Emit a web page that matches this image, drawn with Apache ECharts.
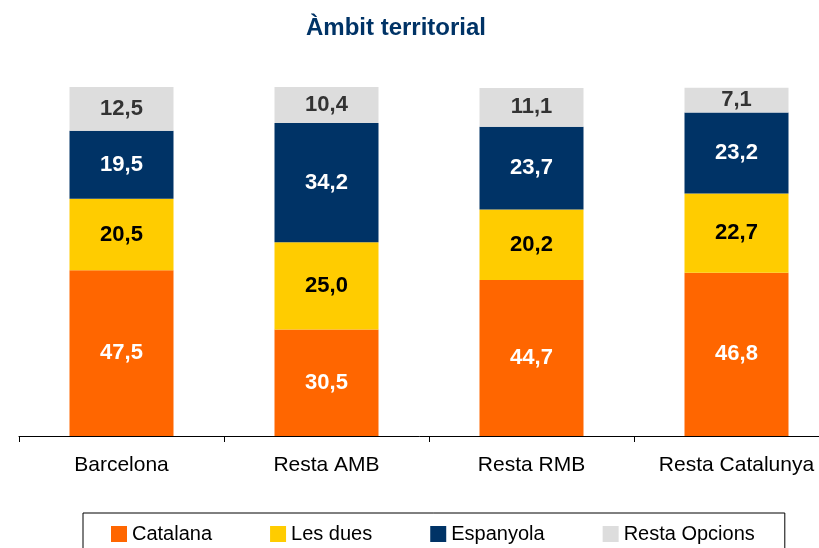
<!DOCTYPE html>
<html>
<head>
<meta charset="utf-8">
<script src="https://cdn.jsdelivr.net/npm/echarts@6/dist/echarts.min.js"></script>
<style>html,body{margin:0;padding:0;background:#fff;}#c{width:819px;height:548px;}</style>
</head>
<body>
<div id="c"></div>
<script>
const categories = ['Barcelona', 'Resta AMB', 'Resta RMB', 'Resta Catalunya'];
const catalana = [47.5, 30.5, 44.7, 46.8];
const lesDues = [20.5, 25.0, 20.2, 22.7];
const espanyola = [19.5, 34.2, 23.7, 23.2];
const restaOpcions = [12.5, 10.4, 11.1, 7.1];

const FONT = 'Liberation Sans, Arial, sans-serif';
const fmt = p => p.value.toFixed(1).replace('.', ',');

function mk(name, data, color, labelColor) {
  return {
    name: name, type: 'bar', stack: 'total', data: data, barWidth: 104,
    itemStyle: { color: color },
    label: { show: true, position: 'inside', formatter: fmt, color: labelColor,
      fontFamily: FONT, fontWeight: 'bold', fontSize: 22 },
    emphasis: { disabled: true }
  };
}

const chart = echarts.init(document.getElementById('c'));
chart.setOption({
  animation: false,
  title: { text: 'Àmbit territorial', left: 301, top: 11,
    textStyle: { fontFamily: FONT, fontWeight: 'bold', fontSize: 24, color: '#003366' } },
  grid: { left: 19, width: 820, top: 87, bottom: 112, containLabel: false, outerBoundsMode: 'none' },
  legend: {
    left: 83, top: 513,
    padding: [11, 30, 14, 28],
    borderColor: '#000', borderWidth: 1,
    itemWidth: 16, itemHeight: 16, itemGap: 58,
    icon: 'rect',
    textStyle: { fontFamily: FONT, fontSize: 20, color: '#000' },
    data: ['Catalana', 'Les dues', 'Espanyola', 'Resta Opcions']
  },
  xAxis: {
    type: 'category', data: categories,
    axisLine: { lineStyle: { color: '#000', width: 1 } },
    axisTick: { show: true, length: 6, interval: 0, lineStyle: { color: '#000' } },
    axisLabel: { fontFamily: FONT, fontSize: 21, color: '#000', margin: 19, interval: 0 }
  },
  yAxis: { type: 'value', min: 0, max: 100, show: false, splitLine: { show: false } },
  series: [
    mk('Catalana', catalana, '#FF6600', '#fff'),
    mk('Les dues', lesDues, '#FFCC00', '#000'),
    mk('Espanyola', espanyola, '#003366', '#fff'),
    mk('Resta Opcions', restaOpcions, '#DDDDDD', '#333')
  ]
});
</script>
</body>
</html>
